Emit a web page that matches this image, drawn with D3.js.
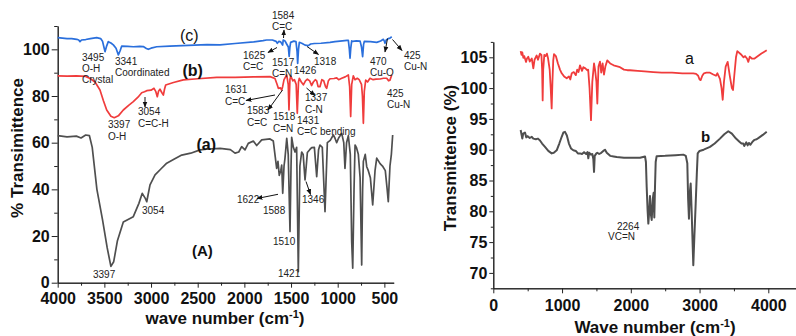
<!DOCTYPE html>
<html>
<head>
<meta charset="utf-8">
<script src="https://cdn.jsdelivr.net/npm/d3@7"></script>
<style>
  body { margin: 0; background: #fff; }
  svg { font-family: "Liberation Sans", Arial, sans-serif; }
  .axis path, .axis line { stroke: #222; }
  .axis text { font-weight: bold; font-size: 16px; fill: #111; }
  .note { font-size: 10px; fill: #222; }
</style>
</head>
<body>
<div id="chart"></div>
<script>
// ---- data: panel (A), wavenumber (cm-1) / % transmittance ----
const specA = [[4000,63],[3900,62.5],[3800,62.8],[3750,62],[3700,63.3],[3660,63],[3630,58],[3580,40],[3520,27],[3470,15],[3430,7],[3400,9],[3360,18],[3297,26],[3190,28.3],[3130,34],[3094,38.3],[3060,36],[3046,34.7],[3030,38],[3011,41.9],[2957,46.2],[2900,48.5],[2832,51.2],[2750,53],[2671,54.7],[2575,55.5],[2475,56.9],[2380,57.3],[2260,57.6],[2150,57],[2100,55.5],[2060,56],[2029,58.3],[1993,56.9],[1958,59.7],[1904,60.7],[1868,58.8],[1814,61.2],[1725,61.6],[1690,60.7],[1654,49],[1640,52],[1626,46],[1610,48],[1600,50.4],[1589,38.3],[1575,50],[1565,53.3],[1546,61.9],[1530,55],[1511,21.9],[1500,50],[1493,62.3],[1475,58],[1457,56],[1440,58],[1422,4.7],[1405,50],[1386,56],[1370,55],[1350,44],[1337,50],[1325,55.8],[1300,57],[1279,57.9],[1250,58],[1225,45.4],[1205,57],[1190,59],[1165,58],[1136,30.4],[1111,60],[1080,61],[1047,63.3],[1030,62],[1011,60],[990,62],[957,64],[935,60],[922,49],[905,60],[886,63],[865,55],[850,17.6],[839,6.2],[825,40],[814,59],[800,58],[779,55],[760,45],[743,7.6],[733,40],[725,52],[705,55],[689,49.7],[672,48],[650,45],[625,33.3],[600,48],[582,53.4],[546,51],[520,50],[490,48],[470,40],[458,34.7],[440,50],[425,55],[411,63.3]];
const specB = [[4000,88.6],[3900,88.5],[3800,88.6],[3700,88.4],[3653,87.5],[3600,86],[3547,82.6],[3510,78],[3475,74],[3430,71.3],[3394,70.7],[3350,71.5],[3297,74],[3240,76],[3190,77.6],[3140,79.5],[3100,81.4],[3070,81.8],[3046,82.3],[3000,82.5],[2968,83.3],[2950,82],[2933,79.7],[2920,82],[2904,82.9],[2885,81.5],[2868,80.4],[2855,83],[2843,84.7],[2760,85.8],[2654,86.9],[2500,87.4],[2296,88],[2100,88],[1900,88.2],[1725,88.3],[1672,87.5],[1650,85],[1636,83.3],[1615,83.5],[1600,82.6],[1590,84],[1575,87],[1546,89],[1530,85],[1522,74],[1512,87],[1503,88.5],[1480,86.5],[1464,87],[1445,85],[1433,72.6],[1420,86],[1411,87.6],[1390,86],[1368,84.8],[1345,86.5],[1325,87.2],[1300,86.5],[1280,84.5],[1261,86],[1240,87],[1225,86.5],[1210,84],[1190,84],[1170,87],[1150,86.5],[1130,84],[1118,83.3],[1100,86.5],[1082,87.4],[1040,87.5],[1011,87.8],[990,87],[957,87.6],[920,88.2],[886,89],[872,84],[861,71.2],[850,85],[833,88.6],[815,87],[790,87.6],[770,87],[745,85],[735,80],[725,68.3],[715,82],[700,86.8],[680,86],[654,87.6],[620,87],[590,87.2],[546,87.3],[510,87.6],[475,87.6],[455,86.5],[440,86.8],[421,89]];
const specC = [[4000,105],[3900,104.6],[3850,104.6],[3796,104.3],[3775,104],[3761,103.3],[3745,104],[3700,104.2],[3650,104.6],[3582,105],[3540,104.6],[3520,103.5],[3505,101],[3493,99],[3475,101.5],[3458,103.3],[3430,102.7],[3404,101.9],[3375,100.5],[3350,97.6],[3330,99.5],[3314,101.4],[3250,101.3],[3190,101.1],[3120,101.3],[3083,101.2],[3050,100.4],[3029,100],[3000,100.5],[2939,101.1],[2800,101.4],[2600,101.7],[2400,102],[2261,101.9],[2100,102.5],[1900,103.2],[1800,103.7],[1761,104],[1700,104],[1660,103.4],[1647,102.6],[1630,103.4],[1611,103.2],[1590,101.8],[1584,104],[1565,103.6],[1550,102.5],[1529,101],[1520,97],[1512,101],[1504,103],[1470,103.5],[1447,103.3],[1435,99],[1429,94],[1420,100],[1411,103],[1380,102.5],[1350,101.8],[1315,101.6],[1290,102.3],[1250,102.5],[1180,102.6],[1082,103],[1029,103.3],[950,103.6],[900,103.8],[886,103.8],[875,100],[868,96.2],[860,100.5],[850,103.6],[839,103.4],[800,103.6],[760,103.5],[745,101],[733,96.9],[723,102],[715,103.4],[650,103.3],[582,103],[540,103.6],[511,104.3],[500,103.5],[493,102.6],[480,104],[458,104.6],[440,104.8],[421,105.4]];

// ---- data: right panel ----
const specRa = [[398,106],[410,105.4],[422,105.8],[437,104.9],[450,105.2],[476,104.25],[490,104.8],[509,105.1],[530,104.3],[560,104.8],[582,103.2],[600,104.6],[631,105.3],[650,104.6],[679,105.6],[700,105.4],[710,103],[718,98],[726,103],[742,105.4],[760,105.2],[780,105.6],[797,104.8],[820,103],[835,100],[849,96.7],[860,101],[872,104.5],[883,105.5],[910,105.2],[940,104],[970,103],[995,102.4],[1030,101.9],[1068,101.6],[1100,101.9],[1120,101.4],[1141,102.4],[1170,102.6],[1200,102.1],[1220,103],[1240,102.6],[1261,103.7],[1290,102.8],[1310,103.4],[1339,103.2],[1365,102.9],[1380,103],[1400,100],[1421,94.8],[1440,101],[1465,104],[1480,103],[1500,101],[1513,97.5],[1530,103.5],[1552,104.3],[1570,102.5],[1590,104],[1610,102.2],[1630,103.5],[1658,104.5],[1700,104],[1750,103.7],[1843,103.4],[1900,103],[1950,102.9],[1988,102.9],[2100,102.8],[2200,102.7],[2327,102.6],[2450,102.5],[2600,102.5],[2750,102.4],[2909,102.4],[2950,102.3],[2980,102],[3000,101.4],[3016,101.3],[3040,102],[3064,102.4],[3100,102.5],[3152,102.5],[3200,102.2],[3239,102.0],[3260,102.4],[3297,101.5],[3320,100],[3337,98.1],[3355,101],[3380,103.5],[3409,104.25],[3440,102],[3470,100],[3487,99.7],[3505,102],[3530,105],[3549,106],[3600,105.5],[3640,105],[3661,105.2],[3690,104.8],[3709,104.25],[3730,105.1],[3760,104.8],[3800,104.8],[3850,105.2],[3900,105.6],[3977,106.15]];
const specRb = [[398,93.2],[410,92.5],[422,91.8],[435,92.6],[461,92.8],[480,92.0],[500,92.2],[530,91.9],[560,92.1],[582,91.8],[620,91.7],[650,91.8],[679,91.5],[710,91],[752,90.45],[800,89.8],[849,89.4],[880,89.5],[922,89.9],[960,91],[995,92.1],[1020,92.8],[1043,92.9],[1070,92.3],[1100,91],[1130,90.2],[1164,89.9],[1200,89.8],[1230,89.4],[1261,89.4],[1290,89.3],[1320,89.6],[1350,89.3],[1370,89.6],[1382,88.6],[1395,89.5],[1420,89.2],[1440,89.3],[1455,88.5],[1465,86.4],[1475,89],[1500,89.4],[1513,89.5],[1540,89.3],[1570,89.5],[1600,89.8],[1625,90],[1650,89.5],[1700,89],[1750,88.9],[1795,88.8],[1900,88.7],[2000,88.7],[2134,88.7],[2207,88.9],[2220,88],[2231,84],[2245,80],[2255,78],[2268,80],[2279,82.5],[2292,79.5],[2304,78.6],[2320,82],[2332,83],[2342,79],[2352,84],[2362,88],[2376,88.95],[2500,89],[2650,89.1],[2764,89.2],[2800,89],[2822,87.8],[2834,82],[2846,78.8],[2858,83],[2871,84.5],[2885,80],[2909,71.25],[2925,76],[2944,81.3],[2960,86],[2973,89.4],[3000,89.8],[3060,90],[3152,90.45],[3220,91],[3297,91.8],[3360,92.5],[3418,93],[3470,92.6],[3530,91.8],[3580,91.3],[3610,91],[3636,91],[3650,90.6],[3680,91.2],[3700,90.7],[3718,91.1],[3740,90.8],[3770,91.3],[3800,91.6],[3831,91.7],[3870,92],[3920,92.4],[3977,92.9]];

const ticksLX = [4000, 3500, 3000, 2500, 2000, 1500, 1000, 500];
const ticksLY = [0, 20, 40, 60, 80, 100];
const ticksRX = [0, 1000, 2000, 3000, 4000];
const ticksRY = [70, 75, 80, 85, 90, 95, 100, 105];

// labels: [text lines, x, first baseline]
const notesC = [[["3495", "O-H", "Crystal"], 82, 60.5], [["3341", "Coordinated"], 115, 64.5],
  [["1584", "C=C"], 272, 19], [["1625", "C=C"], 243, 59], [["1517", "C=N"], 272, 65.5],
  [["1426"], 294, 74], [["1318"], 314, 64.5], [["470", "Cu-O"], 370, 64.5], [["425", "Cu-N"], 404, 59]];
const notesB = [[["3397", "O-H"], 108, 128], [["3054", "C=C-H"], 138, 115], [["1631", "C=C"], 225, 93],
  [["1583", "C=C"], 247, 114], [["1518", "C=N"], 273, 120], [["1431", "C=C bending"], 297, 123.5],
  [["1337", "C-N"], 305, 101], [["425", "Cu-N"], 387, 96.5]];
const notesA = [["1622", 237, 202.5], ["1588", 263, 214], ["1346", 302, 202.5], ["1510", 273, 245],
  ["1421", 278, 276.5], ["3054", 142, 214], ["3397", 93, 277.5]];
const arrows = [[145, 97, 145, 107], [283.5, 38, 284, 30], [277, 47.5, 268, 52.5], [307, 46.5, 318.5, 54.5],
  [387.5, 38.5, 385, 52], [392.5, 39.5, 402, 50.5], [275, 95, 246, 100.5], [282.5, 90, 268, 110],
  [306.5, 88, 315, 95.5], [278, 194.3, 257, 198.5], [306, 181.5, 310.5, 194.5]];

const width = 796, height = 336;
const svg = d3.select('#chart').append('svg')
    .attr('width', width)
    .attr('height', height);

svg.append('defs').append('marker')
    .attr('id', 'arr')
    .attr('viewBox', '0 0 10 10')
    .attr('refX', 9).attr('refY', 5)
    .attr('markerWidth', 6).attr('markerHeight', 6)
    .attr('orient', 'auto')
  .append('path')
    .attr('d', 'M0,1L10,5L0,9z')
    .attr('fill', '#111');

const xL = d3.scaleLinear().domain([4000, 400]).range([57.7, 393.7]);
const yL = d3.scaleLinear().domain([0, 110]).range([282.7, 26]);
const xR = d3.scaleLinear().domain([0, 4400]).range([493.3, 795.8]);
const yR = d3.scaleLinear().domain([67.5, 107.5]).range([288.3, 41.9]);

function drawAxes(x, y, tx, ty, minorX, minorY, bottomY, leftX, xSize, xPad, ySize, yPad) {
    svg.append('g').attr('class', 'axis')
        .attr('transform', `translate(0,${bottomY})`)
        .call(d3.axisBottom(x).tickValues(minorX).tickSize(xSize / 2 + 0.5).tickFormat('').tickSizeOuter(0));
    svg.append('g').attr('class', 'axis')
        .attr('transform', `translate(0,${bottomY})`)
        .call(d3.axisBottom(x).tickValues(tx).tickSize(xSize).tickPadding(xPad).tickSizeOuter(0)
            .tickFormat(d3.format('d')));
    svg.append('g').attr('class', 'axis')
        .attr('transform', `translate(${leftX},0)`)
        .call(d3.axisLeft(y).tickValues(minorY).tickSize(ySize / 2 + 0.5).tickFormat('').tickSizeOuter(0));
    svg.append('g').attr('class', 'axis')
        .attr('transform', `translate(${leftX},0)`)
        .call(d3.axisLeft(y).tickValues(ty).tickSize(ySize).tickPadding(yPad).tickSizeOuter(0)
            .tickFormat(d3.format('d')));
}

drawAxes(xL, yL, ticksLX, ticksLY, d3.range(3750, 400, -500), d3.range(10, 111, 20), 282.7, 57.7, 5, 5, 6, 2);
drawAxes(xR, yR, ticksRX, ticksRY, d3.range(500, 4400, 1000), d3.range(67.5, 108, 5), 288.3, 493.3, 5, 6, 4, 2);

function spectrum(data, x, y, color, w) {
    svg.append('path')
        .datum(data)
        .attr('fill', 'none')
        .attr('stroke', color)
        .attr('stroke-width', w)
        .attr('stroke-linejoin', 'round')
        .attr('d', d3.line().x(d => x(d[0])).y(d => y(d[1])));
}

spectrum(specA, xL, yL, '#4f4f4f', 1.7);
spectrum(specB, xL, yL, '#f03c3c', 1.7);
spectrum(specC, xL, yL, '#2a6fdc', 1.7);
spectrum(specRa, xR, yR, '#f03c3c', 1.8);
spectrum(specRb, xR, yR, '#4f4f4f', 2);

function note(lines, x, y0, size, step) {
    const t = svg.append('text').attr('class', 'note').attr('font-size', size);
    lines.forEach((s, i) => t.append('tspan').attr('x', x).attr('y', y0 + i * step).text(s));
}
notesC.forEach(n => note(n[0], n[1], n[2], 10, 11));
notesB.forEach(n => note(n[0], n[1], n[2], 10, 11.5));
notesA.forEach(n => note([n[0]], n[1], n[2], 9, 0));

svg.selectAll('line.arrow')
    .data(arrows).enter()
    .append('line')
    .attr('class', 'arrow')
    .attr('x1', d => d[0]).attr('y1', d => d[1])
    .attr('x2', d => d[2]).attr('y2', d => d[3])
    .attr('stroke', '#111').attr('stroke-width', 1)
    .attr('marker-end', 'url(#arr)');

const big = (txt, x, y, size, bold) => svg.append('text')
    .attr('x', x).attr('y', y)
    .attr('font-size', size)
    .attr('font-weight', bold ? 'bold' : 'normal')
    .attr('fill', '#111')
    .text(txt);
big('(c)', 180, 40.5, 16, false);
big('(b)', 182.5, 76, 16, true);
big('(a)', 196.5, 149.5, 16, true);
big('(A)', 192, 256, 15, true);
big('a', 685, 63.5, 16, false);
big('b', 701, 141.5, 15, true);
note(['2264'], 617, 230, 12.5, 0);
note(['VC=N'], 608, 239.5, 12.5, 0);

// axis titles
function title(x, y, rot, main, anchor) {
    const t = svg.append('text')
        .attr('transform', `translate(${x},${y}) rotate(${rot})`)
        .attr('text-anchor', anchor)
        .attr('font-size', 17)
        .attr('font-weight', 'bold')
        .attr('fill', '#111');
    t.append('tspan').text(main);
    return t;
}
title(23, 148, -90, '% Transimittence', 'middle');
title(456, 158, -90, 'Transmittence (%)', 'middle');
[[225, 324, 'wave number (cm'], [655, 333, 'Wave number (cm']].forEach(d => {
    const t = title(d[0], d[1], 0, d[2], 'middle');
    t.append('tspan').attr('font-size', 11).attr('dy', -6).text('-1');
    t.append('tspan').attr('dy', 6).text(')');
});
</script>
</body>
</html>
